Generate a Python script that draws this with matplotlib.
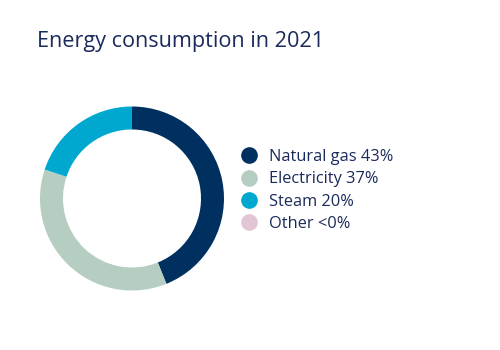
import matplotlib
matplotlib.use("Agg")
import matplotlib.pyplot as plt
from matplotlib.lines import Line2D

categories = ["Natural gas", "Electricity", "Steam", "Other"]
shares = [43.9, 36.2, 19.9, 0.0]
share_labels = ["43%", "37%", "20%", "<0%"]
colors = ["#00305f", "#b6cdc2", "#00a8cf", "#e2c5d5"]

plt.rcParams['font.family'] = ['Open Sans', 'DejaVu Sans']
text_color = "#1b2a5c"

fig = plt.figure(figsize=(5, 3.5), dpi=100)
fig.patch.set_facecolor("white")

fig.text(37 / 500, 1 - 41 / 350, "Energy consumption in 2021", fontsize=15.6,
         color=text_color, ha="left", va="center")

ax = fig.add_axes([(132 - 100) / 500, (151.5 - 100) / 350, 200 / 500, 200 / 350])
ax.pie([s if s > 0 else 0.0001 for s in shares], colors=colors, startangle=90,
       counterclock=False, radius=0.92,
       wedgeprops=dict(width=0.23, edgecolor="none"))
ax.set_xlim(-1, 1)
ax.set_ylim(-1, 1)
ax.set_aspect("equal")
ax.axis("off")

handles = [Line2D([0], [0], marker="o", linestyle="none", markersize=12,
                  markerfacecolor=c, markeredgecolor="none") for c in colors]
labels = [f"{c} {l}" for c, l in zip(categories, share_labels)]
leg = fig.legend(handles, labels, loc="center left",
                 bbox_to_anchor=(233 / 500, 1 - 190.5 / 350), frameon=False,
                 fontsize=11.8, labelspacing=0.38, handletextpad=0.6,
                 handlelength=1.2, borderaxespad=0)
for t in leg.get_texts():
    t.set_color(text_color)

fig.savefig("out.png", dpi=100, facecolor="white")
